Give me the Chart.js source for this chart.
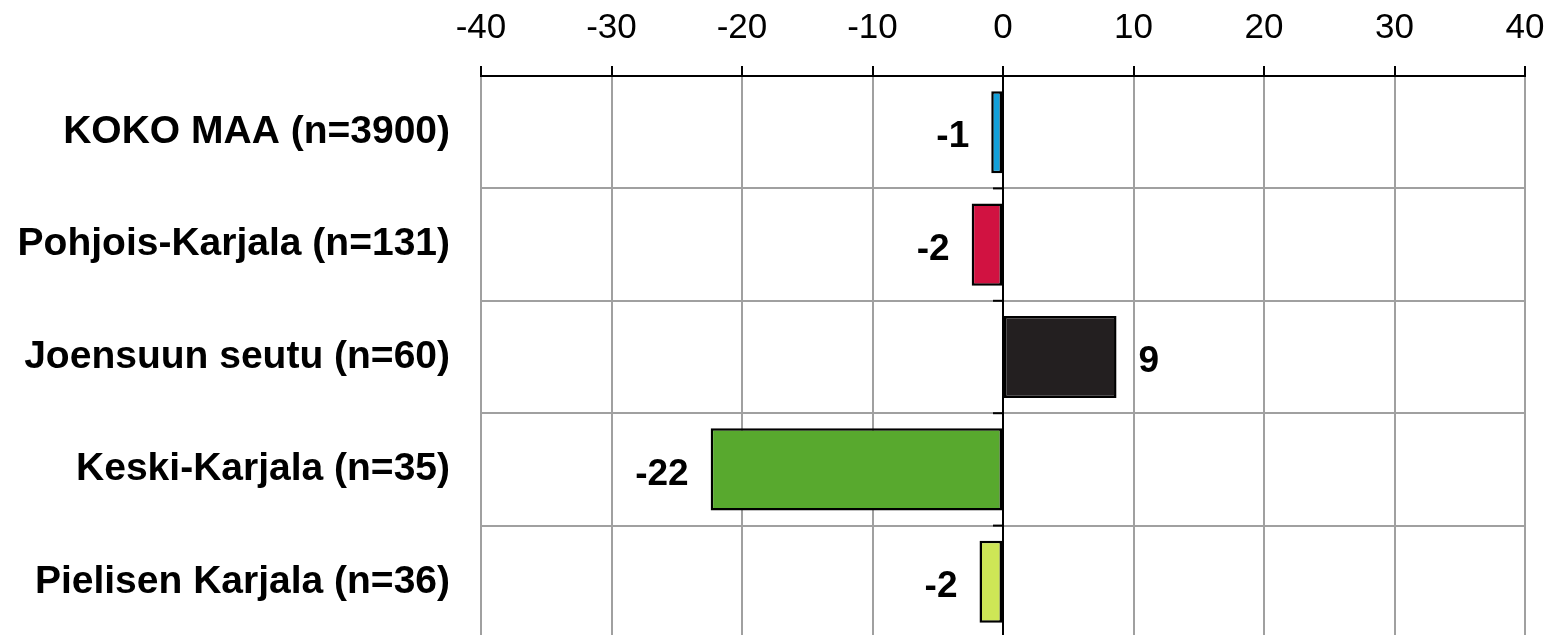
<!DOCTYPE html>
<html><head><meta charset="utf-8">
<script src="https://cdn.jsdelivr.net/npm/chart.js@4/dist/chart.umd.min.js"></script>
<style>html,body{margin:0;padding:0;background:#fff;overflow:hidden}canvas{display:block}</style>
</head><body>
<canvas id="c" width="1563" height="638"></canvas>
<script>
const categories = ["KOKO MAA (n=3900)", "Pohjois-Karjala (n=131)", "Joensuun seutu (n=60)", "Keski-Karjala (n=35)", "Pielisen Karjala (n=36)"];
const values = [-0.9, -2.4, 8.7, -22.4, -1.8];
const valueLabels = ["-1", "-2", "9", "-22", "-2"];
const barColors = ["#12a0da", "#d11241", "#231f20", "#58a92e", "#cee656"];
const xMin = -40, xMax = 40, xStep = 10;

const FONT = "'Liberation Sans', Arial, sans-serif";

const overlay = {
  id: 'overlay',
  afterDatasetsDraw(chart) {
    const ctx = chart.ctx;
    const xs = chart.scales.x, ys = chart.scales.y;
    const x0 = xs.getPixelForValue(0);
    ctx.save();
    ctx.strokeStyle = '#000';
    ctx.lineWidth = 2;
    ctx.beginPath();
    ctx.moveTo(x0, chart.chartArea.top - 10);
    ctx.lineTo(x0, chart.chartArea.bottom);
    ctx.stroke();
    for (let i = 1; i <= categories.length; i++) {
      const yb = i < categories.length
        ? (ys.getPixelForValue(i - 1) + ys.getPixelForValue(i)) / 2
        : chart.chartArea.bottom;
      ctx.beginPath();
      ctx.moveTo(x0 - 10, yb);
      ctx.lineTo(x0, yb);
      ctx.stroke();
    }
    const meta = chart.getDatasetMeta(0);
    ctx.font = "bold 37px " + FONT;
    ctx.fillStyle = '#000';
    ctx.textBaseline = 'middle';
    meta.data.forEach((bar, i) => {
      const v = values[i];
      if (v < 0) {
        ctx.textAlign = 'right';
        ctx.fillText(valueLabels[i], Math.min(bar.x, bar.base) - 22, bar.y + 5);
      } else {
        ctx.textAlign = 'left';
        ctx.fillText(valueLabels[i], Math.max(bar.x, bar.base) + 22, bar.y + 5);
      }
    });
    ctx.restore();
  }
};

new Chart(document.getElementById('c'), {
  type: 'bar',
  data: {
    labels: categories,
    datasets: [{
      data: values,
      backgroundColor: barColors,
      borderColor: '#000',
      borderWidth: 2.5,
      borderSkipped: false,
      barPercentage: 0.73,
      categoryPercentage: 1
    }]
  },
  options: {
    indexAxis: 'y',
    responsive: false,
    animation: false,
    layout: { padding: { left: 0, right: 38, top: 0, bottom: 0 } },
    plugins: { legend: { display: false }, tooltip: { enabled: false } },
    scales: {
      x: {
        type: 'linear',
        position: 'top',
        min: xMin, max: xMax,
        afterFit(s) { s.height = 76; s.paddingLeft = 0; s.paddingRight = 0; },
        ticks: { stepSize: xStep, color: '#000', font: { family: FONT, size: 35 }, padding: 17, maxRotation: 0 },
        grid: {
          color: c => (c.tick && c.tick.value === 0) ? '#000' : '#a0a0a0',
          lineWidth: 2,
          drawTicks: true,
          tickLength: 10,
          tickColor: '#000'
        },
        border: { display: true, color: '#000', width: 2 }
      },
      y: {
        afterFit(s) { s.width = 481; s.paddingTop = 0; s.paddingBottom = 0; },
        ticks: { color: '#000', font: { family: FONT, size: 39, weight: 'bold' }, padding: 31 },
        grid: { color: '#a0a0a0', lineWidth: 2, drawTicks: false, offset: true },
        border: { display: false }
      }
    }
  },
  plugins: [overlay]
});
</script>
</body></html>
